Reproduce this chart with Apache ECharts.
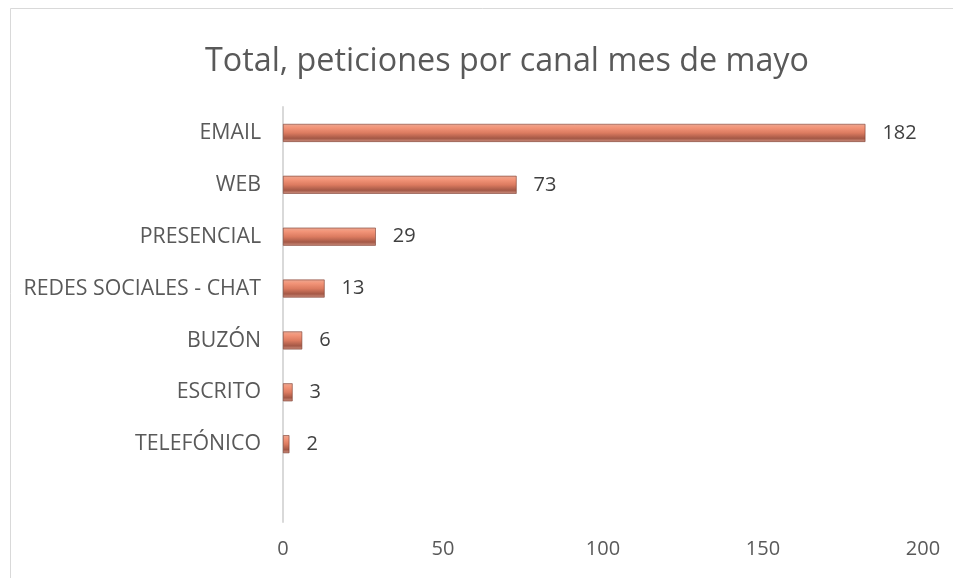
<!DOCTYPE html>
<html>
<head>
<meta charset="utf-8">
<script src="https://cdn.jsdelivr.net/npm/echarts@6/dist/echarts.min.js"></script>
<style>
  html, body { margin: 0; padding: 0; background: #fff; }
  #chart { width: 953px; height: 578px; }
</style>
</head>
<body>
<div id="chart"></div>
<script>
// categorias de abajo hacia arriba (la primera queda vacia, como en el original)
const canales = ['', 'TELEFÓNICO', 'ESCRITO', 'BUZÓN', 'REDES SOCIALES - CHAT', 'PRESENCIAL', 'WEB', 'EMAIL'];
const peticiones = [null, 2, 3, 6, 13, 29, 73, 182];
const ticksX = [0, 50, 100, 150, 200];

const chart = echarts.init(document.getElementById('chart'));

const barColor = new echarts.graphic.LinearGradient(0, 0, 0, 1, [
  { offset: 0, color: '#eaa893' },
  { offset: 0.2, color: '#f39579' },
  { offset: 0.5, color: '#dc7b60' },
  { offset: 0.8, color: '#a45846' },
  { offset: 1, color: '#cf9282' }
]);

chart.setOption({
  backgroundColor: '#fff',
  animation: false,
  title: {
    text: 'Total, peticiones por canal mes de mayo',
    left: 200,
    top: 41,
    textStyle: {
      fontFamily: 'Open Sans',
      fontWeight: 'normal',
      fontSize: 32.3,
      color: '#595959'
    }
  },
  // marco del grafico: sigue mas alla del borde derecho de la imagen
  graphic: [{
    type: 'rect',
    shape: { x: 10.5, y: 8.5, width: 1000, height: 600 },
    style: { fill: 'none', stroke: '#d9d9d9', lineWidth: 1 },
    silent: true
  }],
  grid: { left: 283, right: 30, top: 107, bottom: 56 },
  xAxis: {
    type: 'value',
    min: ticksX[0],
    max: ticksX[ticksX.length - 1],
    interval: 50,
    axisLine: { show: false },
    axisTick: { show: false },
    splitLine: { show: false },
    axisLabel: {
      margin: 17,
      fontFamily: 'Open Sans',
      fontSize: 20,
      color: '#595959'
    }
  },
  yAxis: {
    type: 'category',
    data: canales,
    axisLine: { show: true, lineStyle: { color: '#d9d9d9', width: 2 } },
    axisTick: { show: false },
    axisLabel: {
      margin: 22,
      fontFamily: 'Open Sans',
      fontSize: 21.3,
      color: '#595959'
    }
  },
  series: [{
    type: 'bar',
    data: peticiones,
    barWidth: 18,
    itemStyle: {
      color: barColor,
      borderColor: '#7a3a2e',
      borderWidth: 0.6
    },
    label: {
      show: true,
      position: 'right',
      distance: 17,
      fontFamily: 'Open Sans',
      fontSize: 20,
      color: '#404040'
    }
  }]
});
</script>
</body>
</html>
